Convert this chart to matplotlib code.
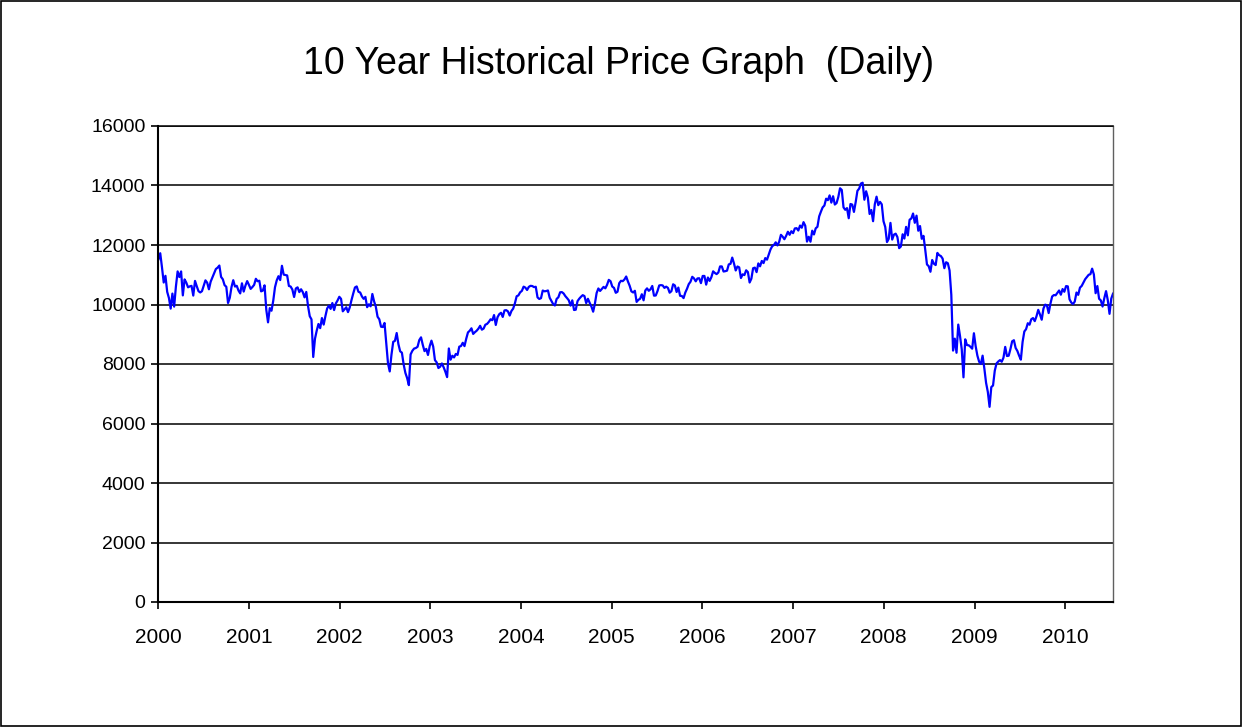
import matplotlib
matplotlib.use("Agg")
import matplotlib.pyplot as plt
import pandas as pd
from matplotlib.patches import Rectangle

title = "10 Year Historical Price Graph  (Daily)"
y_ticks = [0, 2000, 4000, 6000, 8000, 10000, 12000, 14000, 16000]
x_tick_labels = [str(y) for y in range(2000, 2011)]

v2000 = [11522, 11723, 11251, 10739, 10964, 10425, 10219, 9862, 10367, 9929, 10595, 11112, 10922,
         11111, 10306, 10844, 10734, 10577, 10610, 10627, 10300, 10794, 10615, 10449, 10405, 10448,
         10636, 10812, 10733, 10511, 10767, 10908, 11046, 11193, 11238, 11310, 10927, 10847, 10651,
         10596, 10050, 10226, 10590, 10817, 10603, 10629, 10470, 10373, 10712, 10434, 10635, 10787]
v2001 = [10662, 10525, 10587, 10659, 10864, 10781, 10799, 10441, 10466, 10644, 9823, 9400, 9879,
         9791, 10127, 10579, 10810, 10951, 10821, 11301, 11005, 10990, 10977, 10623, 10604, 10502,
         10252, 10539, 10577, 10417, 10512, 10416, 10240, 10423, 9949, 9606, 9500, 8236, 8848, 9120,
         9345, 9205, 9545, 9324, 9608, 9867, 9960, 9852, 10049, 9812, 10035, 10137]
v2002 = [10259, 10190, 9771, 9841, 9907, 9744, 9903, 10147, 10368, 10573, 10608, 10427, 10404,
         10271, 10190, 10257, 9910, 10006, 9939, 10353, 10105, 9925, 9589, 9503, 9253, 9243, 9380,
         8684, 8019, 7750, 8313, 8745, 8778, 9041, 8664, 8427, 8380, 7986, 7701, 7529, 7290, 8322,
         8443, 8518, 8537, 8579, 8805, 8896, 8645, 8433, 8507, 8303]
v2003 = [8601, 8785, 8586, 8131, 8054, 7865, 7909, 8018, 7891, 7740, 7560, 8522, 8145, 8277, 8221,
         8338, 8306, 8583, 8604, 8713, 8601, 8850, 9062, 9117, 9200, 9011, 9070, 9119, 9188, 9284,
         9153, 9191, 9321, 9348, 9416, 9503, 9472, 9645, 9313, 9572, 9675, 9721, 9582, 9801, 9810,
         9768, 9629, 9782, 9862, 10042, 10278, 10305]
v2004 = [10409, 10458, 10600, 10568, 10488, 10593, 10628, 10620, 10584, 10596, 10240, 10186, 10213,
         10470, 10443, 10452, 10472, 10226, 10118, 10013, 9967, 10188, 10243, 10410, 10417, 10371,
         10282, 10214, 10140, 9962, 10140, 9815, 9825, 10111, 10195, 10260, 10314, 10284, 10047,
         10192, 10055, 9933, 9758, 10027, 10387, 10539, 10456, 10522, 10592, 10543, 10661, 10828, 10783]
v2005 = [10603, 10558, 10393, 10427, 10716, 10796, 10785, 10841, 10941, 10774, 10629, 10442, 10404,
         10461, 10087, 10157, 10192, 10345, 10140, 10471, 10542, 10460, 10513, 10623, 10297, 10303,
         10449, 10640, 10651, 10641, 10558, 10600, 10559, 10397, 10447, 10679, 10641, 10420, 10569,
         10292, 10287, 10215, 10402, 10531, 10686, 10766, 10931, 10878, 10779, 10876, 10883, 10718]
v2006 = [10959, 10960, 10667, 10907, 10794, 10919, 11115, 11061, 11022, 11076, 11280, 11280, 11109,
         11120, 11138, 11347, 11367, 11577, 11380, 11144, 11278, 11247, 10891, 11015, 10989, 11150,
         11090, 10739, 10868, 11219, 11240, 11088, 11381, 11284, 11464, 11392, 11560, 11508, 11679,
         11850, 11960, 12002, 12090, 11986, 12108, 12342, 12280, 12194, 12307, 12445, 12343, 12463]
v2007 = [12398, 12556, 12566, 12487, 12654, 12581, 12768, 12647, 12114, 12277, 12110, 12481, 12354,
         12560, 12612, 12962, 13120, 13265, 13326, 13556, 13507, 13668, 13424, 13639, 13360, 13409,
         13612, 13907, 13851, 13265, 13182, 13240, 12900, 13379, 13358, 13113, 13442, 13820, 13896,
         14066, 14093, 13522, 13807, 13595, 13042, 13177, 12800, 13372, 13625, 13339, 13450, 13366]
v2008 = [12800, 12606, 12099, 12207, 12743, 12182, 12348, 12381, 12266, 11894, 11951, 12361, 12216,
         12609, 12325, 12849, 12891, 13058, 12745, 12986, 12479, 12638, 12209, 12307, 11843, 11346,
         11288, 11100, 11496, 11370, 11326, 11734, 11659, 11628, 11543, 11220, 11421, 11388, 11143,
         10325, 8451, 8852, 8378, 9325, 8943, 8497, 7552, 8829, 8636, 8629, 8579, 8515]
v2009 = [9034, 8599, 8281, 8077, 8000, 8280, 7850, 7366, 7063, 6560, 7224, 7278, 7776, 8018, 8083,
         8131, 8076, 8212, 8575, 8268, 8278, 8500, 8764, 8799, 8539, 8438, 8280, 8146, 8743, 9093,
         9171, 9370, 9321, 9505, 9544, 9441, 9605, 9820, 9665, 9488, 9865, 9995, 9972, 9713, 10023,
         10270, 10318, 10310, 10388, 10471, 10329, 10520]
v2010 = [10428, 10618, 10610, 10173, 10067, 10013, 10099, 10402, 10325, 10567, 10625, 10742, 10851,
         10927, 10998, 11019, 11205, 11009, 10380, 10620, 10193, 10137, 9931, 10212, 10450, 10144,
         9686, 10198, 10363]

values = v2000 + v2001 + v2002 + v2003 + v2004 + v2005 + v2006 + v2007 + v2008 + v2009 + v2010
dates = pd.date_range("2000-01-03", periods=len(values), freq="7D")

fig = plt.figure(figsize=(12.43, 7.27), dpi=100)
plt.rcParams['font.family'] = ['Liberation Sans', 'DejaVu Sans']
ax = fig.add_axes([158/1243, 1-602/727, (1113-158)/1243, (602-126)/727])

ax.plot(dates, values, color=(0, 0, 1), linewidth=1.6)

ax.set_ylim(0, 16000)
ax.set_xlim(pd.Timestamp("2000-01-01"), dates[-1])
ax.set_yticks(y_ticks)
ax.set_yticklabels([str(t) for t in y_ticks])
ax.set_xticks([pd.Timestamp(f"{y}-01-01") for y in range(2000, 2011)])
ax.set_xticklabels(x_tick_labels)
ax.grid(axis='y', color='black', linewidth=1.1)
ax.set_axisbelow(True)
ax.tick_params(axis='both', length=5, width=1.2, color='black')
ax.tick_params(axis='y', labelsize=14, pad=4)
ax.tick_params(axis='x', labelsize=15, pad=14)
for s in ['left', 'bottom']:
    ax.spines[s].set_linewidth(1.5)
    ax.spines[s].set_color('black')
ax.spines['right'].set_color('#606060')
ax.spines['right'].set_linewidth(1.0)
ax.spines['top'].set_color('black')
ax.spines['top'].set_linewidth(1.1)

fig.text(0.4975, 1-64/727, title, ha='center', va='center', fontsize=27)
fig.patches.append(Rectangle((0.0005, 0.0008), 0.998, 0.998, transform=fig.transFigure,
                             fill=False, edgecolor='black', linewidth=1.2))

fig.savefig("out.png", dpi=100)
